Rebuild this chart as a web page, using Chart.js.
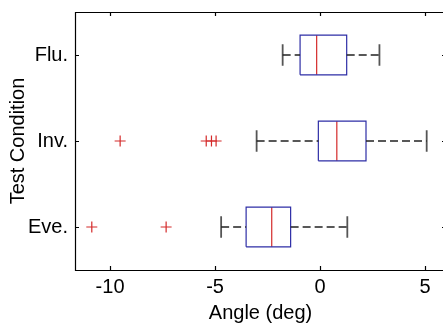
<!DOCTYPE html>
<html>
<head>
<meta charset="utf-8">
<script src="https://cdn.jsdelivr.net/npm/chart.js@4"></script>
<style>
  html, body { margin: 0; padding: 0; background: #fff; overflow: hidden; }
  #wrap { width: 460px; height: 327px; }
</style>
</head>
<body>
<div id="wrap"><canvas id="boxChart"></canvas></div>
<script>
// Box plot data, one entry per condition, bottom to top
const conditions = ['Eve.', 'Inv.', 'Flu.'];
const whiskerLow = [-4.71, -3.02, -1.78];
const q1 = [-3.52, -0.08, -0.95];
const median = [-2.30, 0.80, -0.16];
const q3 = [-1.40, 2.19, 1.27];
const whiskerHigh = [1.30, 5.08, 2.83];
const outliers = [[-10.87, -7.33], [-9.52, -5.42, -5.17, -4.95], []];
const xTicks = [-10, -5, 0, 5];

const boxHalf = 0.23;
const capHalf = 0.125;
const blue = '#2e2ea6';
const red = '#d42a2a';
const dark = '#222222';
const capGrey = '#555555';

function line(points, color, dash, width) {
  return {
    data: points,
    showLine: true,
    borderColor: color,
    borderWidth: width || 1,
    borderDash: dash || [],
    pointRadius: 0,
    pointHoverRadius: 0,
    fill: false
  };
}

const datasets = [];
conditions.forEach((c, i) => {
  const y = i + 1;
  // whiskers
  datasets.push(line([{ x: whiskerLow[i], y: y }, { x: q1[i], y: y }], dark, [8, 4], 1.3));
  datasets.push(line([{ x: q3[i], y: y }, { x: whiskerHigh[i], y: y }], dark, [8, 4], 1.3));
  // end caps
  datasets.push(line([{ x: whiskerLow[i], y: y - capHalf }, { x: whiskerLow[i], y: y + capHalf }], capGrey, [], 1.8));
  datasets.push(line([{ x: whiskerHigh[i], y: y - capHalf }, { x: whiskerHigh[i], y: y + capHalf }], capGrey, [], 1.8));
  // box
  datasets.push(line([
    { x: q1[i], y: y - boxHalf }, { x: q3[i], y: y - boxHalf },
    { x: q3[i], y: y + boxHalf }, { x: q1[i], y: y + boxHalf },
    { x: q1[i], y: y - boxHalf }
  ], blue, [], 1.2));
  // median
  datasets.push(line([{ x: median[i], y: y - boxHalf }, { x: median[i], y: y + boxHalf }], red, [], 1.2));
  // outliers
  datasets.push({
    data: outliers[i].map(v => ({ x: v, y: y })),
    showLine: false,
    pointStyle: 'cross',
    pointRadius: 5.5,
    pointHoverRadius: 5.5,
    borderColor: red,
    borderWidth: 1.2
  });
});

// Matlab style frame with inward ticks on all four sides
const frame = {
  id: 'frame',
  afterDraw(chart) {
    const { ctx, chartArea: a, scales } = chart;
    const len = 4;
    ctx.save();
    ctx.strokeStyle = '#000';
    ctx.lineWidth = 1.2;
    ctx.beginPath();
    ctx.rect(Math.round(a.left) + 0.5, Math.round(a.top) + 0.5,
      Math.round(a.right - a.left), Math.round(a.bottom - a.top));
    scales.x.ticks.forEach(t => {
      const px = Math.round(scales.x.getPixelForValue(t.value)) + 0.5;
      ctx.moveTo(px, a.bottom); ctx.lineTo(px, a.bottom - len);
      ctx.moveTo(px, a.top); ctx.lineTo(px, a.top + len);
    });
    scales.y.ticks.forEach(t => {
      const py = Math.round(scales.y.getPixelForValue(t.value)) + 0.5;
      ctx.moveTo(a.left, py); ctx.lineTo(a.left + len, py);
      ctx.moveTo(a.right, py); ctx.lineTo(a.right - len, py);
    });
    ctx.stroke();
    ctx.restore();
  }
};

Chart.defaults.font.family = "'Liberation Sans', Arial, sans-serif";
Chart.defaults.color = '#000';

new Chart(document.getElementById('boxChart'), {
  type: 'scatter',
  data: { datasets: datasets },
  options: {
    responsive: true,
    maintainAspectRatio: false,
    animation: false,
    layout: { padding: { top: 12, right: 14, bottom: 2, left: 0 } },
    plugins: {
      legend: { display: false },
      tooltip: { enabled: false }
    },
    scales: {
      x: {
        type: 'linear',
        min: -11.67,
        max: 6,
        afterBuildTicks: s => { s.ticks = xTicks.map(v => ({ value: v })); },
        afterFit: s => { s.height = 55; s.paddingLeft = 0; s.paddingRight = 0; },
        grid: { display: false, drawTicks: false },
        border: { display: false },
        ticks: { font: { size: 20 }, padding: 5, maxRotation: 0 },
        title: { display: true, text: 'Angle (deg)', font: { size: 20 }, padding: { top: 0, bottom: 0 } }
      },
      y: {
        type: 'linear',
        min: 0.5,
        max: 3.5,
        afterBuildTicks: s => { s.ticks = conditions.map((c, i) => ({ value: i + 1 })); },
        afterFit: s => { s.width = 75; s.paddingTop = 0; s.paddingBottom = 0; },
        grid: { display: false, drawTicks: false },
        border: { display: false },
        ticks: { font: { size: 20 }, padding: 7, callback: v => conditions[v - 1] },
        title: { display: true, text: 'Test Condition', font: { size: 20 }, padding: { top: 6, bottom: 0 } }
      }
    }
  },
  plugins: [frame]
});
</script>
</body>
</html>
